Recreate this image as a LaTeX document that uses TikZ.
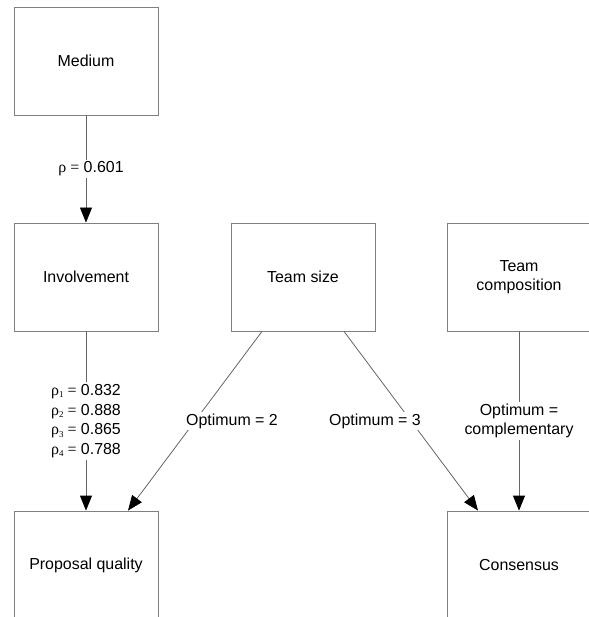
\documentclass[tikz,border=0pt]{standalone}
\usepackage{fontspec}
\setmainfont{Liberation Sans}
\newfontfamily\symfont{Liberation Serif}
\usetikzlibrary{arrows.meta,positioning,calc}
\newcommand{\rhosub}[1]{{\symfont ρ\raisebox{-0.35ex}{\fontsize{9}{9}\selectfont #1} =}}

\begin{document}
\begin{tikzpicture}[x=1bp,y=-1bp,>={Triangle[length=15bp,width=12bp,color=black]},
  box/.style={draw=black!50,line width=0.8bp,minimum width=144bp,minimum height=108bp,
              align=center,font=\fontsize{16}{19.3}\selectfont},
  lbl/.style={fill=white,inner sep=2bp,align=center,font=\fontsize{16}{19.7}\selectfont},
  link/.style={->,draw=black!60,line width=0.8bp}]
\useasboundingbox (0,0) rectangle (589,617);
\clip (0,0) rectangle (589,617);
\node[box] (medium) at (86,61) {Medium};
\node[box] (involve) at (86,277) {Involvement};
\node[box] (size) at (303,277) {Team size};
\node[box] (comp) at (519,277) {Team\\composition};
\node[box] (quality) at (86,565) {Proposal quality};
\node[box] (consensus) at (519,565) {Consensus};
\draw[link] (medium) -- (involve) node[lbl,midway,xshift=5bp] {{\symfont ρ =} 0.601};
\draw[link] (involve) -- (quality) node[lbl,midway] {\rhosub{1} 0.832\\\rhosub{2} 0.888\\\rhosub{3} 0.865\\\rhosub{4} 0.788};
\draw[link] ([xshift=-41bp]size.south) -- ([xshift=42bp]quality.north) node[lbl,midway,xshift=37bp] {Optimum = 2};
\draw[link] ([xshift=41bp]size.south) -- ([xshift=-41bp]consensus.north) node[lbl,midway,xshift=-36bp] {Optimum = 3};
\draw[link] (comp) -- (consensus) node[lbl,midway] {Optimum =\\complementary};
\end{tikzpicture}
\end{document}
